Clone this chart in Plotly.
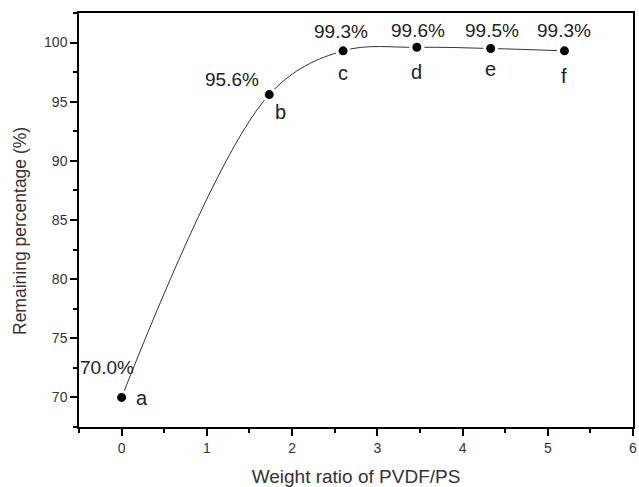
import plotly.graph_objects as go

ratio = [0.0, 1.732, 2.598, 3.464, 4.33, 5.196]
remaining = [70.0, 95.6, 99.3, 99.6, 99.5, 99.3]
value_labels = ["70.0%", "95.6%", "99.3%", "99.6%", "99.5%", "99.3%"]
point_labels = ["a", "b", "c", "d", "e", "f"]

FONT = "Liberation Sans, Arial, sans-serif"

fig = go.Figure()
fig.add_trace(go.Scatter(
    x=ratio, y=remaining, mode="lines+markers",
    line=dict(color="#333333", width=1, shape="spline", smoothing=1.0),
    marker=dict(color="black", size=12, line=dict(color="white", width=3)),
    showlegend=False, hoverinfo="skip"))

# value label offsets (px) and letter offsets (px)
val_off = [(-15, 30), (-37, 15), (-2, 19), (1, 17), (1, 18), (0, 20)]
let_off = [(20, -1), (11, -17), (0, -22), (0, -25), (0, -21), (0, -25)]

anns = []
for i in range(len(ratio)):
    anns.append(dict(x=ratio[i], y=remaining[i], xref="x", yref="y",
                     text=value_labels[i], showarrow=False,
                     xshift=val_off[i][0], yshift=val_off[i][1],
                     font=dict(family=FONT, size=19, color="#222")))
    anns.append(dict(x=ratio[i], y=remaining[i], xref="x", yref="y",
                     text=point_labels[i], showarrow=False,
                     xshift=let_off[i][0], yshift=let_off[i][1],
                     font=dict(family=FONT, size=20, color="#222")))

# y-axis title as rotated annotation (paper coords derived from pixel layout)
pw, ph = 639 - 79 - 6, 487 - 13 - 60
anns.append(dict(x=(20 - 79) / pw, y=(427 - 231) / ph, xref="paper", yref="paper",
                 xanchor="center", yanchor="middle", showarrow=False,
                 text="Remaining percentage (%)", textangle=-90,
                 font=dict(family=FONT, size=17.5, color="#333")))

fig.update_layout(
    width=639, height=487,
    margin=dict(l=79, r=6, t=13, b=60, autoexpand=False),
    paper_bgcolor="white", plot_bgcolor="white",
    font=dict(family=FONT, color="#333"),
    annotations=anns,
    xaxis=dict(range=[-0.5, 6], tickvals=[0, 1, 2, 3, 4, 5, 6], automargin=False,
               showgrid=False, zeroline=False,
               showline=True, linecolor="black", linewidth=1.5, mirror=True,
               ticks="outside", ticklen=7, tickwidth=1.5, tickcolor="black",
               minor=dict(ticks="outside", ticklen=4, tickwidth=1.5, tickcolor="black", dtick=0.5, tick0=0.5),
               tickfont=dict(size=14, color="#333"),
               title=dict(text="Weight ratio of PVDF/PS", font=dict(size=19, color="#333"), standoff=22)),
    yaxis=dict(range=[67.5, 102.5], tickvals=[70, 75, 80, 85, 90, 95, 100], automargin=False,
               showgrid=False, zeroline=False,
               showline=True, linecolor="black", linewidth=1.5, mirror=True,
               ticks="outside", ticklen=7, tickwidth=1.5, tickcolor="black",
               minor=dict(ticks="outside", ticklen=4, tickwidth=1.5, tickcolor="black", dtick=2.5, tick0=67.5),
               tickfont=dict(size=14, color="#333")),
)

fig.write_html("out.html")
